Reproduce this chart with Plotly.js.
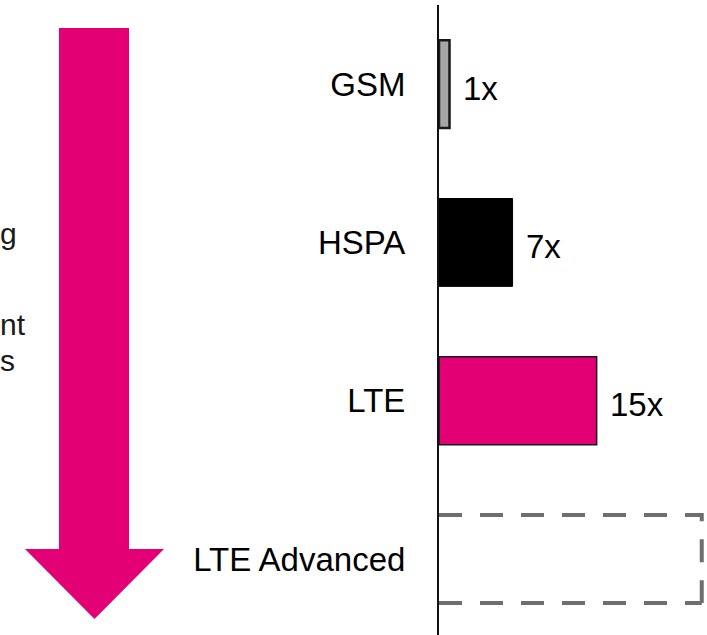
<!DOCTYPE html>
<html>
<head>
<meta charset="utf-8">
<script src="https://cdn.plot.ly/plotly-3.0.1.min.js"></script>
<style>html,body{margin:0;padding:0;background:#fff;}#chart{width:707px;height:635px;}</style>
</head>
<body>
<div id="chart"></div>
<script>
// ---- data ----
var technologies = ["GSM", "HSPA", "LTE", "LTE Advanced"];
var speedFactor = [1, 7, 15, 25];
var factorLabels = ["1x", "7x", "15x", ""];
var sideText = ["g", "nt", "s"];   // visible ends of the cropped side text

// ---- styles ----
var FONT = "Liberation Sans, Arial, sans-serif";
var MAGENTA = "#e20074";
var fillColors = ["#a6a6a6", "#000000", MAGENTA, "rgba(0,0,0,0)"];
var lineColors = ["#1a1a1a", "#000000", "#1a1a1a", "rgba(0,0,0,0)"];
var lineWidths = [2.5, 1, 1.5, 0];
var BARW = 0.555;

var W = 707, H = 635;
var L = 439, R = 0, T = 5, B = 0;
var PW = W - L - R, PH = H - T - B;
function px(x) { return (x - L) / PW; }
function py(y) { return 1 - (y - T) / PH; }

var idx = technologies.map(function (_, i) { return i; });

var bars = {
  type: "bar",
  orientation: "h",
  x: speedFactor,
  y: idx,
  width: BARW,
  marker: { color: fillColors, line: { color: lineColors, width: lineWidths } },
  hoverinfo: "skip",
  showlegend: false
};

// dashed outline for the future technology (last category)
var last = technologies.length - 1;
var v = speedFactor[last];
var yt = last - BARW / 2, yb = last + BARW / 2;
var dashed = {
  type: "scatter",
  mode: "lines",
  x: [0, v, v, null, 0, v],
  y: [yt, yt, yb, null, yb, yb],
  connectgaps: false,
  line: { color: "#6e6e6e", width: 4, dash: "23px,18px" },
  hoverinfo: "skip",
  showlegend: false,
  cliponaxis: false
};

var annotations = [];
idx.forEach(function (i) {
  if (factorLabels[i]) {
    annotations.push({
      x: speedFactor[i], y: i, xref: "x", yref: "y",
      text: factorLabels[i], showarrow: false,
      xanchor: "left", yanchor: "middle", xshift: 11, yshift: -4,
      font: { family: FONT, size: 33, color: "#000" }
    });
  }
});
// left side explanatory text fragments
var sidePos = [[-2, 233], [-2, 324], [-2, 360]];
sideText.forEach(function (t, i) {
  annotations.push({
    x: px(sidePos[i][0]), y: py(sidePos[i][1]), xref: "paper", yref: "paper",
    text: t, showarrow: false, xanchor: "left", yanchor: "middle",
    font: { family: FONT, size: 30, color: "#1a1a1a" }
  });
});

// big magenta arrow (decoration)
function P(x, y) { return px(x) + "," + py(y); }
var arrowPath = "M" + P(59, 28) + " L" + P(129, 28) + " L" + P(129, 549) +
  " L" + P(164, 549) + " L" + P(94.5, 619) + " L" + P(25, 549) +
  " L" + P(59, 549) + " Z";

var layout = {
  width: W, height: H,
  margin: { l: L, r: R, t: T, b: B, pad: 0 },
  paper_bgcolor: "#ffffff",
  plot_bgcolor: "#ffffff",
  showlegend: false,
  xaxis: {
    range: [0, 25.5], showgrid: false, zeroline: false,
    showticklabels: false, ticks: "", showline: false, fixedrange: true
  },
  yaxis: {
    range: [3.48, -0.5], tickmode: "array", tickvals: idx, ticktext: technologies,
    showgrid: false, zeroline: false, ticks: "",
    showline: true, linecolor: "#111", linewidth: 2,
    ticklabelstandoff: 25,
    tickfont: { family: FONT, size: 33, color: "#000" },
    fixedrange: true
  },
  shapes: [{
    type: "path", xref: "paper", yref: "paper", path: arrowPath,
    fillcolor: MAGENTA, line: { width: 0 }, layer: "above"
  }],
  annotations: annotations
};

Plotly.newPlot("chart", [bars, dashed], layout, { displayModeBar: false, staticPlot: true });
</script>
</body>
</html>
